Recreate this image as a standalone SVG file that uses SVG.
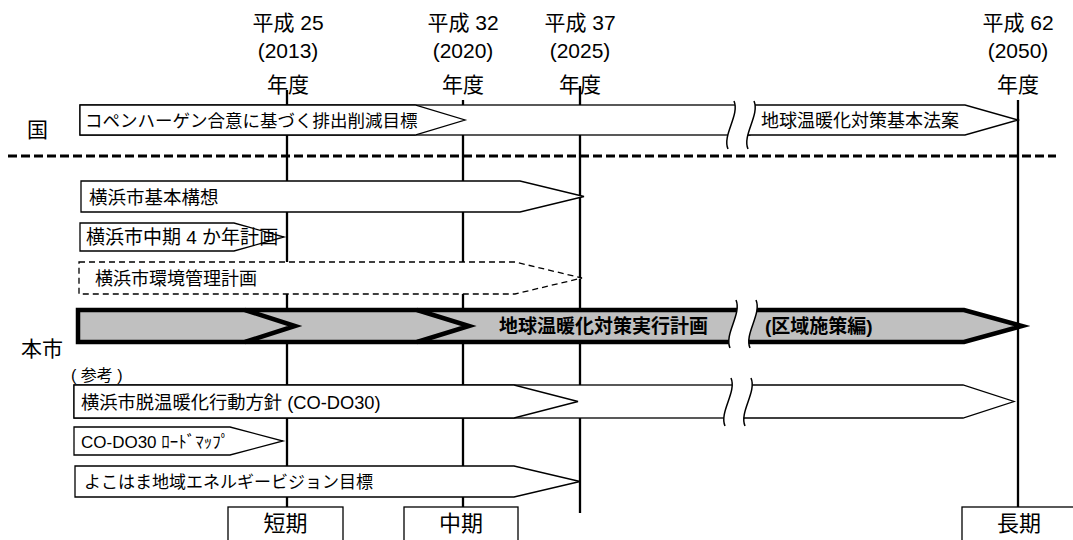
<svg xmlns="http://www.w3.org/2000/svg" xmlns:xlink="http://www.w3.org/1999/xlink" width="1073" height="540" viewBox="0 0 1073 540">
<style>
.t{font-family:"Liberation Sans","Noto Sans CJK JP",sans-serif;fill:#000}
.s18{font-size:18px}
.s21{font-size:21px}
.b{font-weight:bold}
.box{fill:#fff;stroke:#000;stroke-width:1.3}
.dbox{fill:#fff;stroke:#000;stroke-width:1.3;stroke-dasharray:6 4}
.vl{stroke:#000;stroke-width:2.3}
.cv{fill:none;stroke:#000;stroke-width:1.5}
</style>
<defs>
<g id="brk">
<path d="M3,0 C9,14 -9,34 -3,48 L17,48 C11,34 29,14 23,0 Z" fill="#fff"/>
<path class="cv" d="M3,0 C9,14 -9,34 -3,48"/>
<path class="cv" d="M23,0 C29,14 11,34 17,48"/>
</g>
</defs>
<rect width="1073" height="540" fill="#fff"/>

<g id="years" class="t s21" text-anchor="middle">
<text x="288" y="30">平成 25</text><text x="288" y="58">(2013)</text><text x="288" y="92">年度</text>
<text x="463" y="30">平成 32</text><text x="463" y="58">(2020)</text><text x="463" y="92">年度</text>
<text x="580" y="30">平成 37</text><text x="580" y="58">(2025)</text><text x="580" y="92">年度</text>
<text x="1018" y="30">平成 62</text><text x="1018" y="58">(2050)</text><text x="1018" y="92">年度</text>
</g>

<g id="connectors">
<line class="vl" x1="287" y1="90" x2="287" y2="507"/>
<line class="vl" x1="463" y1="100" x2="463" y2="507"/>
<line class="vl" x1="580" y1="86" x2="580" y2="513"/>
<line class="vl" x1="1018" y1="100" x2="1018" y2="507"/>
<line x1="8" y1="156" x2="1056" y2="156" stroke="#000" stroke-width="3" stroke-dasharray="9 4"/>
</g>

<g id="label-kuni"><text class="t s21" x="27" y="137">国</text></g>
<g id="label-honshi"><text class="t s21" x="21" y="356">本市</text></g>
<g id="label-sanko"><text class="t" font-size="16" x="71" y="381">( 参考 )</text></g>

<g id="row-kuni">
<rect class="box" x="80" y="105" width="670" height="30"/>
<polygon class="box" points="80,105 415,105 465,120 415,135 80,135"/>
<text class="t" font-size="17.5" x="85" y="127">コペンハーゲン合意に基づく排出削減目標</text>
<polygon class="box" points="745,105 965,105 1018,120 965,135 745,135"/>
<use xlink:href="#brk" transform="translate(731,101)"/>
<text class="t s18" x="761" y="127">地球温暖化対策基本法案</text>
</g>

<g id="row-kihon">
<polygon class="box" points="81,181 520,181 584,196.5 520,212 81,212"/>
<text class="t" font-size="18.5" x="89" y="204">横浜市基本構想</text>
</g>

<g id="row-chuki">
<polygon class="box" points="80,223 234,223 284,237 234,251 80,251"/>
<text class="t" font-size="19" x="86" y="244">横浜市中期 4 か年計画</text>
</g>

<g id="row-kankyo">
<polygon class="dbox" points="79,262 515,262 582,278 515,294 79,294"/>
<text class="t s18" x="95" y="285">横浜市環境管理計画</text>
</g>

<g id="row-jikko">
<polygon points="78,310 964,310 1022,326 964,342 78,342" fill="#c0c0c0" stroke="#000" stroke-width="4.5"/>
<polyline points="245,310 295,326 245,342" fill="none" stroke="#000" stroke-width="4.5"/>
<polyline points="417,310 469,326 417,342" fill="none" stroke="#000" stroke-width="4.5"/>
<use xlink:href="#brk" transform="translate(733,300)"/>
<text class="t b" font-size="19" x="499" y="333">地球温暖化対策実行計画</text>
<text class="t b" font-size="19" x="765" y="333">(区域施策編)</text>
</g>

<g id="row-codo">
<rect class="box" x="74" y="385" width="670" height="33"/>
<polygon class="box" points="74,385 514,385 578,401.5 514,418 74,418"/>
<polygon class="box" points="740,385 963,385 1014,401.5 963,418 740,418"/>
<use xlink:href="#brk" transform="translate(728,378)"/>
<text class="t" font-size="18.3" x="81" y="409">横浜市脱温暖化行動方針 (CO-DO30)</text>
</g>

<g id="row-roadmap">
<polygon class="box" points="74,427 230,427 283,441 230,455 74,455"/>
<text class="t" font-size="17" x="81" y="448">CO-DO30 ﾛｰﾄﾞﾏｯﾌﾟ</text>
</g>

<g id="row-vision">
<polygon class="box" points="75,466 514,466 580,481.5 514,497 75,497"/>
<text class="t" font-size="17" x="84" y="488">よこはま地域エネルギービジョン目標</text>
</g>

<g id="term-short">
<rect class="box" x="228" y="507" width="115" height="40"/>
<text class="t" font-size="22" x="285.5" y="531" text-anchor="middle">短期</text>
</g>
<g id="term-mid">
<rect class="box" x="404" y="507" width="114" height="40"/>
<text class="t" font-size="22" x="461" y="531" text-anchor="middle">中期</text>
</g>
<g id="term-long">
<rect class="box" x="962" y="507" width="120" height="40"/>
<text class="t" font-size="22" x="1019" y="531" text-anchor="middle">長期</text>
</g>
</svg>
